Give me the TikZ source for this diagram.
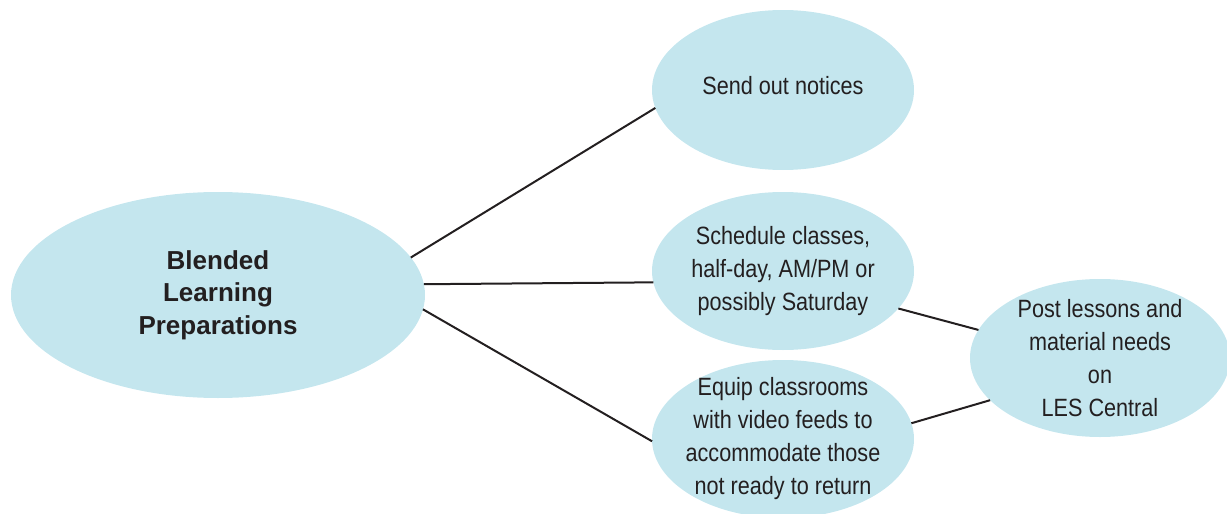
\documentclass[tikz,border=0pt]{standalone}
\usepackage{fontspec}
\setmainfont{Liberation Sans}
\newfontfamily\narrowfont[FakeStretch=0.865]{Liberation Sans}
\usetikzlibrary{shapes.geometric}
\definecolor{bubble}{HTML}{C4E6EE}
\definecolor{ink}{HTML}{231F20}
\tikzset{
  bubble/.style={ellipse, fill=bubble, draw=none, inner sep=-60pt, outer sep=0pt, align=center,
    text=ink, font=\narrowfont\fontsize{25}{33}\selectfont},
  link/.style={draw=ink, line width=2pt}
}
\begin{document}
\begin{tikzpicture}[x=1pt,y=-1pt]
\useasboundingbox (0,0) rectangle (1227,514);
\node[bubble, minimum width=414pt, minimum height=206pt,
  font=\bfseries\fontsize{26}{32.5}\selectfont] (main) at (218,295) {Blended\\Learning\\Preparations};
\node[bubble, minimum width=262pt, minimum height=160pt, text depth=10pt] (notices) at (783,90) {Send out notices};
\node[bubble, minimum width=262pt, minimum height=158pt] (schedule) at (783,271) {Schedule classes,\\half-day, AM/PM or\\possibly Saturday};
\node[bubble, minimum width=262pt, minimum height=158pt] (equip) at (783,439) {Equip classrooms\\with video feeds to\\accommodate those\\not ready to return};
\node[bubble, minimum width=260pt, minimum height=158pt] (post) at (1100,358) {Post lessons and\\material needs\\on\\LES Central};
\draw[link] (main.11.8) -- (notices.188.9);
\draw[link] (main.3.6) -- (schedule.185.7);
\draw[link] (main.-4.2) -- (equip.181.7);
\draw[link] (schedule.-18.3) -- (post.167);
\draw[link] (equip.7.6) -- (post.201.4);
\end{tikzpicture}
\end{document}
